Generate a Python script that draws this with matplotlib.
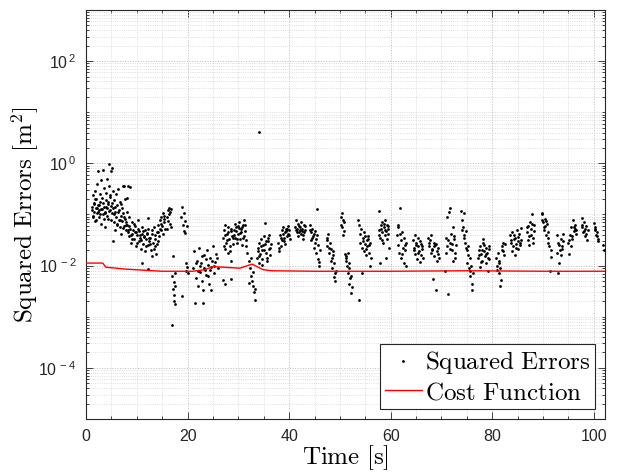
import numpy as np
import matplotlib
matplotlib.use("Agg")
import matplotlib.pyplot as plt
from matplotlib.ticker import FixedLocator, LogLocator, MultipleLocator, NullFormatter, FuncFormatter

# ---------------- data (log10 of squared error) ----------------
burst_01 = [(1.2,-0.85),(1.25,-0.92),(1.3,-0.62),(1.4,-1.02),(1.45,-1.05),(1.5,-0.78),(1.6,-0.95),(1.65,-0.80),
            (1.7,-0.55),(1.8,-1.12),(1.85,-0.70),(1.9,-0.88),(2.0,-0.70),(2.05,-1.10),(2.1,-0.98),(2.2,-0.40),
            (2.25,-0.88),(2.3,-0.82),(2.4,-0.15),(2.45,-0.95),(2.5,-1.05),(2.6,-0.92),(2.65,-0.82),(2.7,-0.60),
            (2.8,-0.75),(2.85,-1.00),(2.9,-1.18),(3.0,-0.33),(3.05,-0.90),(3.1,-0.90),(3.2,-0.68),(3.25,-0.78),
            (3.3,-1.00),(3.4,-0.12),(3.45,-1.08),(3.5,-0.85),(3.6,-0.48),(3.65,-0.97),(3.7,-0.95),(3.8,-1.25),
            (3.85,-0.86),(3.9,-0.72),(4.0,-0.58),(4.05,-1.02),(4.1,-0.88),(4.2,-0.30),(4.25,-0.75),(4.3,-1.08),
            (4.4,-0.80),(4.45,-0.93),(4.5,-0.45),(4.6,-0.02),(4.65,-0.62),(4.7,-0.92),(4.8,-0.65),(4.85,-0.84),
            (4.9,-0.15),(5.0,-1.10),(5.05,-0.98),(5.1,-0.78),(5.2,-0.10),(5.3,-0.55)]
burst_02 = [(5.4,-0.88),(5.4,-1.52),(5.45,-1.00),(5.5,-1.15),(5.6,-0.72),(5.7,-1.30),(5.75,-0.85),(5.8,-0.95),
            (5.9,-0.60),(6.0,-1.05),(6.05,-1.18),(6.1,-1.20),(6.2,-0.82),(6.3,-0.50),(6.35,-0.95),(6.4,-1.10),
            (6.5,-0.92),(6.6,-1.25),(6.65,-1.10),(6.7,-0.75),(6.8,-1.02),(6.9,-1.38),(6.95,-0.80),(7.0,-0.88),
            (7.1,-1.12),(7.2,-0.45),(7.25,-1.27),(7.3,-0.98),(7.4,-1.22),(7.5,-0.45),(7.55,-1.05),(7.6,-1.08),
            (7.7,-0.70),(7.8,-1.30),(7.85,-1.20),(7.9,-1.15),(8.0,-0.95),(8.0,-0.68),(8.3,-0.44),(8.6,-0.46)]
burst_03 = [(8.1,-1.20),(8.2,-1.30),(8.25,-1.35),(8.4,-1.05),(8.5,-1.22),(8.55,-1.42),(8.7,-1.28),(8.8,-1.40),
            (8.85,-1.55),(9.0,-1.15),(9.1,-1.48),(9.15,-1.38),(9.3,-1.30),(9.4,-1.18),(9.45,-1.48),(9.6,-1.22),
            (9.7,-1.35),(9.75,-1.62),(9.9,-1.35),(10.0,-1.55),(10.05,-1.40),(10.2,-1.10),(10.3,-1.28),(10.35,-1.52),
            (10.5,-1.32),(10.6,-1.40),(10.65,-1.45),(10.8,-1.68),(10.9,-1.50),(10.95,-1.25),(11.0,-1.95),(11.1,-1.38),
            (11.2,-1.32),(11.25,-1.58),(11.4,-1.42),(11.5,-1.44),(11.55,-1.30),(11.7,-1.72),(11.8,-1.62),(11.85,-1.48),
            (12.0,-1.36),(12.1,-1.38),(12.15,-1.60),(12.3,-1.28),(12.3,-2.06),(12.3,-1.06),(12.4,-1.52),(12.45,-1.45)]
burst_04 = [(12.6,-1.45),(12.7,-1.58),(12.75,-1.70),(12.9,-1.38),(13.0,-1.30),(13.05,-1.82),(13.2,-1.55),(13.3,-1.68),
            (13.35,-1.25),(13.5,-1.62),(13.6,-1.40),(13.65,-1.48),(13.8,-1.78),(13.9,-1.58),(13.95,-1.35),(14.1,-1.52),
            (14.2,-1.35),(14.25,-1.20),(14.4,-1.42),(14.5,-1.28),(14.55,-1.10),(14.7,-1.30),(14.8,-1.18),(14.85,-1.05),
            (15.0,-1.22),(15.1,-1.38),(15.15,-0.98),(15.3,-1.15),(15.4,-1.08),(15.45,-1.02),(15.6,-1.28)]
burst_05 = [(15.9,-1.05),(16.0,-1.28),(16.1,-0.92),(16.2,-1.12),(16.3,-0.87),(16.4,-1.00),(16.5,-0.95),(16.6,-1.18),
            (16.7,-0.90),(16.8,-1.25),(16.95,-3.16),(17.0,-2.20),(17.1,-2.45),(17.2,-1.82),(17.25,-2.32),(17.3,-2.58),
            (17.4,-2.70),(17.45,-2.40),(17.5,-2.76),(17.6,-2.15)]
burst_06 = [(18.8,-1.05),(18.9,-0.85),(19.0,-2.60),(19.05,-1.20),(19.2,-0.98),(19.3,-1.32),(19.4,-1.12),(19.5,-1.36),
            (19.6,-1.95),(19.7,-2.10),(19.8,-2.02),(19.9,-1.22),(20.0,-2.14)]
burst_07 = [(21.1,-2.05),(21.3,-1.72),(21.5,-2.73),(21.6,-2.25),(21.7,-1.95),(21.8,-1.90),(22.0,-2.40),(22.1,-2.10),
            (22.2,-1.65),(22.4,-2.12),(22.5,-2.00),(22.6,-1.95),(22.8,-2.30),(22.9,-1.82),(23.0,-2.73),(23.1,-2.48),
            (23.2,-1.80),(23.3,-2.05),(23.4,-2.08),(23.6,-2.18),(23.7,-1.88),(23.8,-1.70),(24.0,-1.98),(24.1,-2.20),
            (24.2,-2.35),(24.4,-1.85),(24.5,-2.08),(24.6,-2.48),(24.7,-2.02),(24.9,-1.90),(25.0,-1.62),(25.2,-2.15),
            (25.3,-2.00),(25.4,-1.92),(25.6,-1.78),(25.7,-1.85),(25.9,-2.05)]
burst_08 = [(26.9,-2.28),(27.0,-1.45),(27.1,-1.62),(27.15,-1.30),(27.3,-1.68),(27.35,-2.35),(27.4,-1.40),(27.45,-1.20),
            (27.6,-1.55),(27.7,-1.50),(27.75,-1.38),(27.9,-1.75),(28.0,-1.35),(28.05,-1.25),(28.2,-1.48),(28.3,-1.72),
            (28.35,-1.62),(28.5,-1.33),(28.55,-2.27),(28.6,-1.28),(28.65,-1.90),(28.8,-1.42),(28.9,-1.45),(28.95,-1.58)]
burst_09 = [(29.1,-1.30),(29.2,-1.40),(29.25,-1.18),(29.4,-1.45),(29.5,-1.33),(29.55,-1.25),(29.7,-1.55),(29.8,-1.48),
            (29.85,-1.22),(30.0,-1.38),(30.1,-1.27),(30.15,-1.15),(30.3,-1.48),(30.4,-1.37),(30.45,-1.28),(30.6,-1.35),
            (30.7,-1.24),(30.75,-1.60),(30.9,-1.20),(31.0,-1.45),(31.05,-1.42),(31.2,-1.10),(31.3,-1.21),(31.35,-1.32),
            (31.5,-1.50)]
burst_10 = [(31.6,-1.62),(31.8,-1.75),(32.0,-1.90),(32.1,-2.34),(32.2,-2.05),(32.4,-2.20),(32.5,-1.85),(32.6,-2.30),
            (32.8,-2.40),(32.9,-2.12),(33.0,-2.52),(33.2,-2.67),(33.3,-2.45)]
burst_11 = [(33.7,-1.85),(33.8,-1.72),(33.85,-1.65),(34.0,-1.95),(34.1,-1.82),(34.1,0.61),(34.15,-1.55),(34.3,-1.78),
            (34.4,-1.62),(34.45,-1.48),(34.6,-1.70),(34.7,-1.98),(34.75,-1.88),(34.9,-1.60),(35.0,-1.70),(35.05,-1.42),
            (35.2,-1.16),(35.3,-1.58),(35.35,-1.75),(35.5,-1.52),(35.6,-1.85),(35.65,-1.90),(35.8,-1.45),(35.9,-1.52),
            (35.95,-1.68),(36.1,-1.40),(36.2,-1.65),(36.25,-1.80),(36.4,-1.58)]
burst_12 = [(37.9,-1.55),(38.0,-1.65),(38.05,-1.72),(38.2,-1.40),(38.35,-1.62),(38.4,-1.45),(38.5,-1.30),(38.65,-1.50),
            (38.7,-1.38),(38.8,-1.25),(38.95,-1.45),(39.0,-1.52),(39.1,-1.35),(39.25,-1.58),(39.3,-1.32),(39.4,-1.28),
            (39.55,-1.42),(39.6,-1.28),(39.7,-1.22),(39.85,-1.38),(39.9,-1.40),(40.0,-1.30),(40.15,-1.48)]
burst_13 = [(41.2,-1.25),(41.3,-1.30),(41.35,-1.10),(41.5,-1.35),(41.6,-1.28),(41.65,-1.18),(41.8,-1.42),(41.9,-1.35),
            (41.95,-1.22),(42.1,-1.30),(42.2,-1.24),(42.25,-1.15),(42.4,-1.38),(42.5,-1.32),(42.55,-1.28),(42.7,-1.48),
            (42.8,-1.40),(42.85,-1.20),(43.0,-1.35),(43.1,-1.22),(43.15,-1.30)]
burst_14 = [(44.1,-1.20),(44.2,-1.30),(44.25,-1.35),(44.4,-1.50),(44.55,-1.28),(44.6,-1.45),(44.7,-1.42),(44.85,-1.65),
            (44.9,-1.38),(45.0,-1.32),(45.15,-1.55),(45.2,-1.48),(45.3,-1.75),(45.45,-1.40),(45.5,-0.89),(45.6,-1.88),
            (45.75,-1.60),(45.8,-1.92),(45.9,-2.00),(46.05,-1.70)]
burst_15 = [(47.4,-1.45),(47.5,-1.50),(47.55,-1.62),(47.7,-1.38),(47.85,-1.75),(47.9,-1.65),(48.0,-1.55),(48.15,-1.90),
            (48.3,-1.68),(48.35,-1.85),(48.45,-2.05),(48.6,-1.80),(48.7,-1.72),(48.75,-2.22),(48.9,-1.95),(49.0,-2.15),
            (49.05,-2.30),(49.2,-2.10)]
burst_16 = [(50.2,-1.05),(50.3,-1.20),(50.35,-0.97),(50.5,-1.25),(50.6,-1.10),(50.65,-1.40),(50.8,-1.15),(50.9,-1.32),
            (50.95,-1.78),(51.1,-1.90),(51.2,-1.85),(51.25,-1.82),(51.4,-2.00),(51.5,-1.75),(51.55,-2.15),(51.7,-1.95),
            (51.8,-2.05),(51.85,-2.35),(52.0,-2.25),(52.1,-2.20),(52.15,-2.53),(52.3,-2.42)]
burst_17 = [(53.6,-1.10),(53.7,-2.67),(53.75,-1.20),(53.9,-1.38),(54.05,-1.55),(54.2,-1.28),(54.3,-2.14),(54.35,-1.65),
            (54.5,-1.45),(54.6,-1.52),(54.65,-1.72),(54.8,-1.35),(54.9,-1.42),(54.95,-1.58),(55.1,-1.80),(55.2,-1.68),
            (55.25,-1.50),(55.4,-1.62),(55.5,-1.48),(55.55,-1.42),(55.7,-1.75),(55.8,-1.60),(55.85,-1.55),(56.0,-2.00),
            (56.1,-1.85)]
burst_18 = [(57.6,-1.30),(57.7,-1.40),(57.75,-0.93),(57.8,-1.95),(57.9,-1.45),(58.0,-1.28),(58.05,-1.20),(58.2,-1.35),
            (58.3,-1.50),(58.35,-1.15),(58.5,-1.55),(58.6,-1.18),(58.65,-1.25),(58.8,-1.40),(58.9,-1.30),(58.95,-1.10),
            (59.0,-1.85),(59.1,-1.32),(59.2,-1.20),(59.25,-1.48),(59.4,-1.22),(59.5,-1.28),(59.55,-1.38),(59.7,-1.65)]
burst_19 = [(61.2,-1.40),(61.35,-1.60),(61.4,-1.20),(61.5,-1.25),(61.65,-1.75),(61.8,-0.87),(61.9,-1.38),(61.95,-1.50),
            (62.1,-1.85),(62.25,-1.35),(62.3,-1.78),(62.4,-1.65),(62.55,-1.95),(62.7,-1.45),(62.75,-1.60),(62.85,-1.70),
            (63.0,-1.55),(63.1,-2.00)]
burst_20 = [(64.4,-1.50),(64.5,-1.70),(64.55,-1.65),(64.7,-1.40),(64.85,-1.78),(64.9,-1.60),(65.0,-1.55),(65.15,-1.88),
            (65.3,-1.62),(65.35,-1.75),(65.45,-1.45),(65.6,-1.72),(65.7,-1.52),(65.75,-1.92),(65.9,-1.58),(66.05,-1.80),
            (66.1,-1.62),(66.2,-1.68),(66.35,-1.85)]
burst_21 = [(67.4,-1.45),(67.55,-1.62),(67.6,-1.55),(67.7,-1.50),(67.85,-1.75),(68.0,-1.40),(68.05,-1.70),(68.15,-1.68),
            (68.3,-2.27),(68.45,-1.55),(68.5,-1.62),(68.6,-1.82),(68.75,-1.60),(68.9,-2.48),(69.0,-1.58),(69.05,-1.72),
            (69.2,-1.90),(69.35,-1.65),(69.4,-1.78),(69.5,-1.85)]
burst_22 = [(70.7,-2.10),(70.8,-1.75),(70.85,-1.45),(71.0,-1.05),(71.15,-1.62),(71.2,-1.50),(71.3,-2.56),(71.45,-0.95),
            (71.6,-1.55),(71.65,-1.68),(71.75,-0.88),(71.9,-1.38),(72.0,-1.58),(72.05,-1.70),(72.2,-1.25),(72.35,-1.90),
            (72.4,-1.42),(72.5,-1.48),(72.65,-1.75),(72.7,-1.85),(72.8,-1.60)]
burst_23 = [(73.9,-0.93),(74.0,-1.30),(74.05,-1.10),(74.2,-1.25),(74.35,-0.98),(74.4,-1.45),(74.5,-1.40),(74.65,-1.55),
            (74.8,-1.32),(74.85,-1.65),(74.95,-1.70),(75.1,-1.95),(75.2,-1.80),(75.25,-1.62),(75.4,-2.05),(75.55,-1.85),
            (75.6,-2.10),(75.7,-2.20),(75.85,-2.00),(76.0,-2.47),(76.05,-2.35),(76.15,-2.15)]
burst_24 = [(77.2,-1.85),(77.3,-1.80),(77.35,-1.70),(77.5,-2.02),(77.65,-1.62),(77.7,-1.92),(77.8,-1.78),(77.95,-1.90),
            (78.0,-1.70),(78.1,-1.55),(78.25,-1.48),(78.4,-1.72),(78.45,-1.60),(78.55,-1.82),(78.7,-1.65),(78.8,-1.78),
            (78.85,-1.95),(79.0,-1.75),(79.15,-2.10),(79.2,-1.85),(79.3,-1.68),(79.4,-1.62),(79.45,-1.88)]
burst_25 = [(80.8,-1.85),(80.95,-2.00),(81.0,-2.08),(81.1,-1.75),(81.25,-2.15),(81.3,-1.90),(81.4,-1.95),(81.55,-2.40),
            (81.6,-2.05),(81.7,-2.28),(81.85,-1.70),(82.0,-1.62),(82.1,-1.72),(82.15,-1.55),(82.3,-1.80),(82.45,-1.58)]
burst_26 = [(83.5,-1.40),(83.65,-1.55),(83.7,-1.50),(83.8,-1.72),(83.95,-1.35),(84.1,-1.62),(84.2,-1.40),(84.25,-1.48),
            (84.4,-1.80),(84.55,-1.45),(84.6,-1.65),(84.7,-1.58),(84.85,-1.30),(85.0,-1.68),(85.1,-1.44),(85.15,-1.52),
            (85.3,-1.38),(85.45,-1.60),(85.5,-1.56),(85.6,-1.26),(85.75,-1.50)]
burst_27 = [(86.8,-1.35),(86.9,-1.25),(86.95,-1.50),(87.1,-1.22),(87.25,-1.60),(87.3,-1.42),(87.4,-1.15),(87.55,-1.40),
            (87.7,-1.28),(87.75,-1.18),(87.85,-1.00),(88.0,-1.45),(88.1,-1.55),(88.15,-1.20),(88.3,-1.32)]
burst_28 = [(89.7,-1.00),(89.8,-1.10),(89.85,-0.98),(90.0,-1.15),(90.15,-1.30),(90.2,-1.25),(90.3,-1.08),(90.45,-1.22),
            (90.6,-1.40),(90.65,-1.12),(90.75,-1.18),(90.9,-1.35),(91.0,-1.45),(91.05,-1.55),(91.2,-1.62),(91.35,-2.10),
            (91.5,-1.84),(91.65,-1.70)]
burst_29 = [(92.7,-1.40),(92.8,-1.75),(92.85,-2.15),(93.0,-1.55),(93.15,-1.95),(93.2,-1.60),(93.3,-1.70),(93.45,-1.48),
            (93.6,-1.80),(93.65,-1.68),(93.75,-1.62),(93.9,-1.38),(93.95,-1.52)]
burst_30 = [(95.0,-1.55),(95.15,-1.78),(95.2,-1.50),(95.3,-1.40),(95.45,-1.62),(95.6,-1.25),(95.65,-1.42),(95.75,-1.48),
            (95.9,-1.10),(96.0,-1.25),(96.05,-1.32),(96.2,-1.20),(96.35,-1.28),(96.4,-1.30),(96.5,-1.38)]
burst_31 = [(97.6,-1.07),(97.7,-1.25),(97.75,-1.20),(97.9,-1.35),(98.05,-1.15),(98.1,-1.32),(98.2,-1.28),(98.35,-1.42),
            (98.5,-1.22),(98.55,-1.38),(98.65,-1.49),(98.8,-1.30)]
burst_32 = [(100.0,-1.17),(100.15,-1.30),(100.2,-1.28),(100.3,-1.25),(100.45,-1.40),(100.6,-1.35),(100.65,-1.42),
            (100.75,-1.48),(100.9,-1.52),(101.85,-1.60),(101.95,-1.70)]

bursts = [burst_01, burst_02, burst_03, burst_04, burst_05, burst_06, burst_07, burst_08,
          burst_09, burst_10, burst_11, burst_12, burst_13, burst_14, burst_15, burst_16,
          burst_17, burst_18, burst_19, burst_20, burst_21, burst_22, burst_23, burst_24,
          burst_25, burst_26, burst_27, burst_28, burst_29, burst_30, burst_31, burst_32]

# cost function (log10 values)
cost_t = [0, 3.3, 3.9, 8, 15, 21, 23.4, 25, 27, 30.3, 32.7, 34.9, 36.6, 45, 60, 75, 90, 102.2]
cost_log10 = [-1.95, -1.95, -2.03, -2.07, -2.11, -2.11, -2.08, -2.02, -2.03, -2.05, -1.97, -2.08, -2.10,
              -2.11, -2.11, -2.10, -2.11, -2.11]

x_ticks = [0, 20, 40, 60, 80, 100]
y_ticks = [1e-4, 1e-2, 1e0, 1e2]

# ---------------- plotting ----------------
plt.rcParams['font.family'] = ['Liberation Sans', 'DejaVu Sans']
plt.rcParams['mathtext.fontset'] = 'cm'

pts = [p for b in bursts for p in b]
err_t = np.array([p[0] for p in pts])
err_v = 10.0 ** np.array([p[1] for p in pts])
cost_v = 10.0 ** np.array(cost_log10)

fig = plt.figure(figsize=(6.18, 4.73), dpi=100)
ax = fig.add_axes([86/618, 54/473, 519/618, 409/473])

ax.plot(err_t, err_v, ls='none', marker='o', ms=2.0, mfc='k', mec='k', mew=0,
        label=r'$\mathrm{Squared\ Errors}$', zorder=3)
ax.plot(cost_t, cost_v, color='#ff0000', lw=1.0, label=r'$\mathrm{Cost\ Function}$', zorder=4)

ax.set_yscale('log')
ax.set_xlim(0, 102.2)
ax.set_ylim(1e-5, 1e3)

def fmt_pow(v, pos):
    e = int(round(np.log10(v)))
    return r'$\mathdefault{10^{\,%d}}$' % e

ax.xaxis.set_major_locator(FixedLocator(x_ticks))
ax.xaxis.set_minor_locator(MultipleLocator(5))
ax.yaxis.set_major_locator(FixedLocator(y_ticks))
ax.yaxis.set_major_formatter(FuncFormatter(fmt_pow))
ax.yaxis.set_minor_locator(LogLocator(base=10, subs=np.arange(1, 10), numticks=100))
ax.yaxis.set_minor_formatter(NullFormatter())

ax.grid(True, which='major', ls=':', color='#bcbcbc', lw=0.7)
ax.grid(True, which='minor', ls=':', color='#d4d4d4', lw=0.6)
ax.set_axisbelow(True)

edge = '#262626'
for s in ax.spines.values():
    s.set_color(edge)
    s.set_linewidth(0.8)
ax.tick_params(which='both', direction='in', top=True, right=True, color=edge,
               labelcolor=edge, labelsize=11.5, width=0.6)
ax.tick_params(which='major', length=5, pad=7)
ax.tick_params(which='minor', length=2.5)

ax.set_xlabel(r'$\mathrm{Time\ [s]}$', fontsize=18, labelpad=0)
ax.set_ylabel(r'$\mathrm{Squared\ Errors\ [m^2]}$', fontsize=18, labelpad=-2)

leg = ax.legend(loc='lower right', fontsize=18, fancybox=False, framealpha=1,
                edgecolor=edge, handlelength=1.5, handletextpad=0.1, borderpad=0.2,
                labelspacing=0.15, borderaxespad=0.4, markerscale=1.0)
leg.get_frame().set_linewidth(0.8)

fig.savefig('out.png', dpi=100)
